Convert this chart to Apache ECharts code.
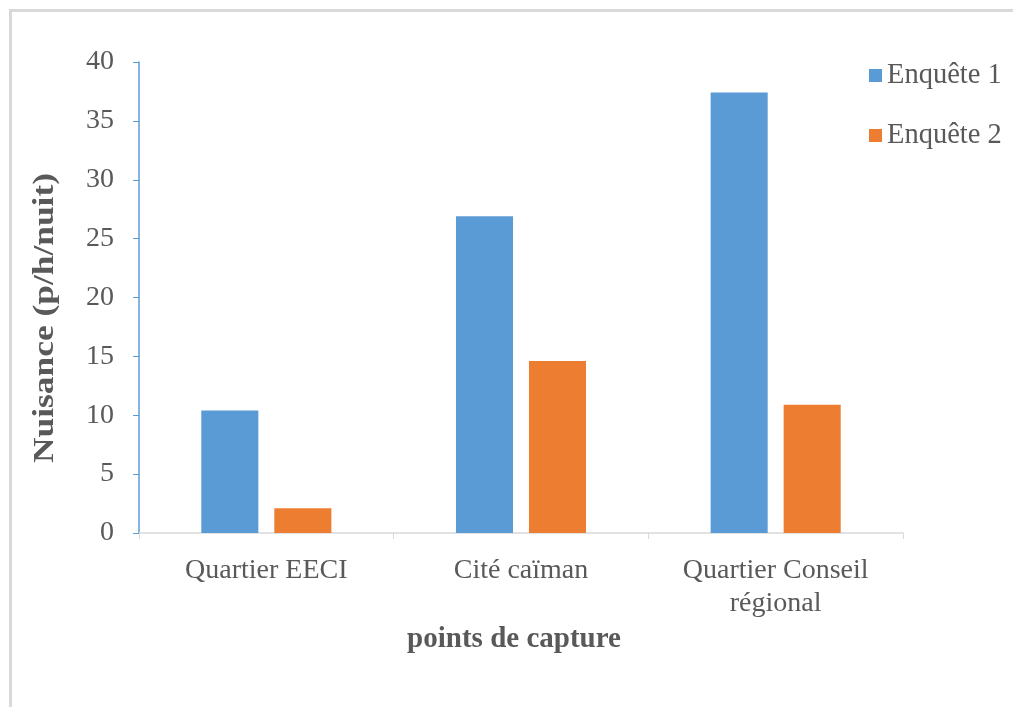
<!DOCTYPE html>
<html>
<head>
<meta charset="utf-8">
<script src="https://cdn.jsdelivr.net/npm/echarts@6/dist/echarts.min.js"></script>
<style>html,body{margin:0;padding:0;background:#fff}#c{width:1013px;height:707px}</style>
</head>
<body>
<div id="c"></div>
<script>
const categories = ['Quartier EECI', 'Cité caïman', 'Quartier Conseil\nrégional'];
const enquete1 = [10.4, 26.9, 37.4];
const enquete2 = [2.1, 14.6, 10.9];
const seriesNames = ['Enquête 1', 'Enquête 2'];
const yTicks = {min: 0, max: 40, interval: 5};
const yTitle = 'Nuisance (p/h/nuit)';
const xTitle = 'points de capture';

const font = 'Liberation Serif, Times New Roman, serif';
const txt = '#595959';
const chart = echarts.init(document.getElementById('c'));
chart.setOption({
  animation: false,
  backgroundColor: '#fff',
  graphic: [{
    type: 'rect', left: 8, top: 8,
    shape: {width: 1200, height: 900},
    style: {fill: 'none', stroke: '#d9d9d9', lineWidth: 3}
  }, {
    type: 'text', x: 46, y: 318, rotation: Math.PI / 2, scaleX: 1.22,
    style: {text: yTitle, font: 'bold 29px ' + font, fill: txt, align: 'center', verticalAlign: 'middle'}
  }],
  grid: {left: 139, top: 62, right: 110, bottom: 174},
  legend: {
    orient: 'vertical', left: 864, top: 56,
    itemWidth: 13, itemHeight: 13, itemGap: 31,
    textStyle: {fontFamily: font, fontSize: 28.5, color: txt},
    icon: 'rect',
    data: seriesNames
  },
  xAxis: {
    type: 'category', data: categories,
    name: xTitle, nameLocation: 'middle', nameGap: 92,
    nameTextStyle: {fontFamily: font, fontSize: 29, fontWeight: 'bold', color: txt, padding: [0, 14, 0, 0]},
    axisLine: {lineStyle: {color: '#d9d9d9', width: 1.5}},
    axisTick: {show: true, length: 6, lineStyle: {color: '#d9d9d9'}},
    axisLabel: {fontFamily: font, fontSize: 28, color: txt, margin: 21, lineHeight: 33}
  },
  yAxis: {
    type: 'value', min: yTicks.min, max: yTicks.max, interval: yTicks.interval,
    axisLine: {show: true, lineStyle: {color: '#5B9BD5', width: 1.5}},
    axisTick: {show: true, length: 6, lineStyle: {color: '#5B9BD5'}},
    splitLine: {show: false},
    axisLabel: {fontFamily: font, fontSize: 28, color: txt, margin: 25}
  },
  series: [
    {name: seriesNames[0], type: 'bar', data: enquete1, barWidth: '22.4%', barGap: '28%', itemStyle: {color: '#5B9BD5'}},
    {name: seriesNames[1], type: 'bar', data: enquete2, barWidth: '22.4%', barGap: '28%', itemStyle: {color: '#ED7D31'}}
  ]
});
</script>
</body>
</html>
